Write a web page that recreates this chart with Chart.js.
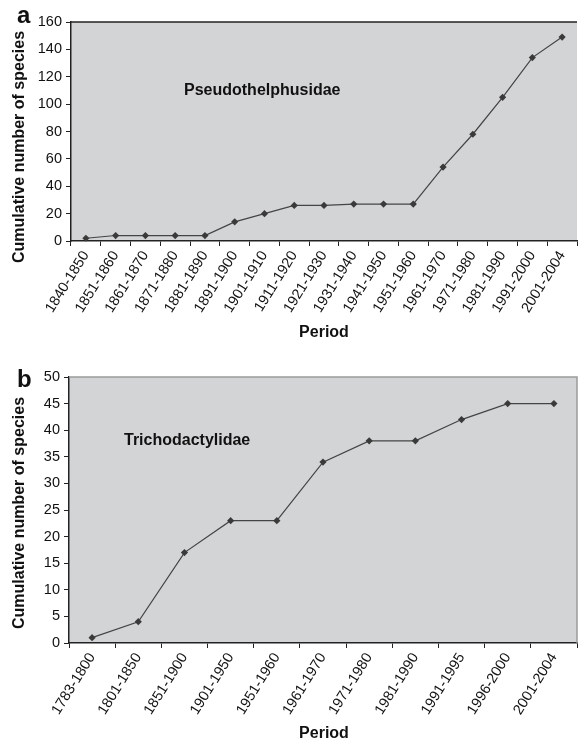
<!DOCTYPE html>
<html>
<head>
<meta charset="utf-8">
<script src="https://cdn.jsdelivr.net/npm/chart.js@4"></script>
<style>
  body{ margin:0; background:#fff; }
  #wrap{ position:relative; width:581px; height:742px; overflow:hidden; }
  canvas{ position:absolute; left:0; }
</style>
</head>
<body>
<div id="wrap">
  <canvas id="chartA" width="581" height="350" style="top:0px"></canvas>
  <canvas id="chartB" width="581" height="392" style="top:350px"></canvas>
</div>
<script>
// ================= DATA =================
const periodsA = ["1840-1850","1851-1860","1861-1870","1871-1880","1881-1890","1891-1900",
  "1901-1910","1911-1920","1921-1930","1931-1940","1941-1950","1951-1960",
  "1961-1970","1971-1980","1981-1990","1991-2000","2001-2004"];
const speciesA = [2,4,4,4,4,14,20,26,26,27,27,27,54,78,105,134,149];
const yMaxA = 160;
const yStepA = 20;

const periodsB = ["1783-1800","1801-1850","1851-1900","1901-1950","1951-1960","1961-1970",
  "1971-1980","1981-1990","1991-1995","1996-2000","2001-2004"];
const speciesB = [1,4,17,23,23,34,38,38,42,45,45];
const yMaxB = 50;
const yStepB = 5;

const FONT = "'Liberation Sans', Arial, sans-serif";


// ================= PLUGINS =================
const plotBg = {
  id: "plotBg",
  beforeDraw(chart, args, o){
    const ctx = chart.ctx;
    const a = chart.chartArea;
    ctx.save();
    ctx.fillStyle = o.color;
    ctx.fillRect(a.left, a.top, a.right - a.left, a.bottom - a.top);
    ctx.restore();
  }
};

const frame = {
  id: "frame",
  afterDraw(chart, args, o){
    const ctx = chart.ctx;
    const a = chart.chartArea;
    ctx.save();
    ctx.strokeStyle = o.color;
    ctx.lineWidth = o.width;
    ctx.beginPath();
    ctx.moveTo(a.left, a.top);
    ctx.lineTo(a.right, a.top);
    if(o.right){
      ctx.lineTo(a.right, a.bottom);
    }
    ctx.stroke();
    ctx.restore();
  }
};

// panel letter, axis titles and family name
const labels = {
  id: "labels",
  afterDraw(chart, args, o){
    const ctx = chart.ctx;
    ctx.save();
    ctx.fillStyle = "#111";
    (o.items || []).forEach(t => {
      ctx.save();
      ctx.font = t.font;
      ctx.textAlign = t.align || "left";
      ctx.textBaseline = t.baseline || "middle";
      ctx.translate(t.x, t.y);
      if(t.rotate) ctx.rotate(t.rotate);
      ctx.fillText(t.text, 0, 0);
      ctx.restore();
    });
    ctx.restore();
  }
};


// ================= CHART =================
function makeChart(canvasId, periods, values, yMax, yStep, cfg){

  return new Chart(document.getElementById(canvasId), {
    type: "line",
    data: {
      labels: periods,
      datasets: [{
        data: values,
        borderColor: "#444",
        borderWidth: 1.2,
        pointStyle: "rectRot",
        pointRadius: 3.6,
        pointBackgroundColor: "#3a3a3a",
        pointBorderColor: "#3a3a3a",
        pointBorderWidth: 0,
        tension: 0,
        clip: false
      }]
    },
    options: {
      responsive: false,
      animation: false,
      layout: { padding: cfg.padding },
      plugins: {
        legend: { display: false },
        tooltip: { enabled: false },
        plotBg: { color: "#d3d4d6" },
        frame: cfg.frame,
        labels: { items: cfg.texts }
      },
      scales: {
        x: {
          offset: true,
          grid: { offset: true, drawOnChartArea: false, tickLength: 5, color: "#222", lineWidth: 1 },
          border: { color: "#222", width: 1.5 },
          ticks: {
            color: "#111",
            font: { family: FONT, size: 14.5 },
            minRotation: 58,
            maxRotation: 58,
            autoSkip: false,
            padding: 2
          },
          afterFit(scale){
            scale.height = cfg.xHeight;
            scale.paddingLeft = 0;
            scale.paddingRight = 0;
          }
        },
        y: {
          min: 0,
          max: yMax,
          grid: { drawOnChartArea: false, tickLength: 5, color: "#222", lineWidth: 1 },
          border: { color: "#222", width: 1.5 },
          ticks: {
            stepSize: yStep,
            color: "#111",
            font: { family: FONT, size: 14.5 },
            padding: 4
          },
          afterFit(scale){ scale.width = cfg.yWidth; }
        }
      }
    },
    plugins: [plotBg, frame, labels]
  });

}

window.onload = () => {

  makeChart("chartA", periodsA, speciesA, yMaxA, yStepA, {
    padding: { top: 22, right: -3, left: 0, bottom: 0 },
    xHeight: 109,
    yWidth: 71,
    frame: { color: "#222", width: 1.5, right: false },
    texts: [
      { text: "a", x: 17, y: 23, font: "bold 24px " + FONT, baseline: "alphabetic" },
      { text: "Cumulative number of species", x: 20, y: 147, font: "bold 16px " + FONT,
        align: "center", rotate: -Math.PI / 2 },
      { text: "Period", x: 324, y: 333, font: "bold 16px " + FONT, align: "center" },
      { text: "Pseudothelphusidae", x: 184, y: 91, font: "bold 16px " + FONT }
    ]
  });

  makeChart("chartB", periodsB, speciesB, yMaxB, yStepB, {
    padding: { top: 27, right: 0, left: 0, bottom: 0 },
    xHeight: 99,
    yWidth: 69,
    frame: { color: "#9a9a9a", width: 1.5, right: true },
    texts: [
      { text: "b", x: 17, y: 37, font: "bold 24px " + FONT, baseline: "alphabetic" },
      { text: "Cumulative number of species", x: 20, y: 163, font: "bold 16px " + FONT,
        align: "center", rotate: -Math.PI / 2 },
      { text: "Period", x: 324, y: 384, font: "bold 16px " + FONT, align: "center" },
      { text: "Trichodactylidae", x: 124, y: 91, font: "bold 16px " + FONT }
    ]
  });

};
</script>
</body>
</html>
